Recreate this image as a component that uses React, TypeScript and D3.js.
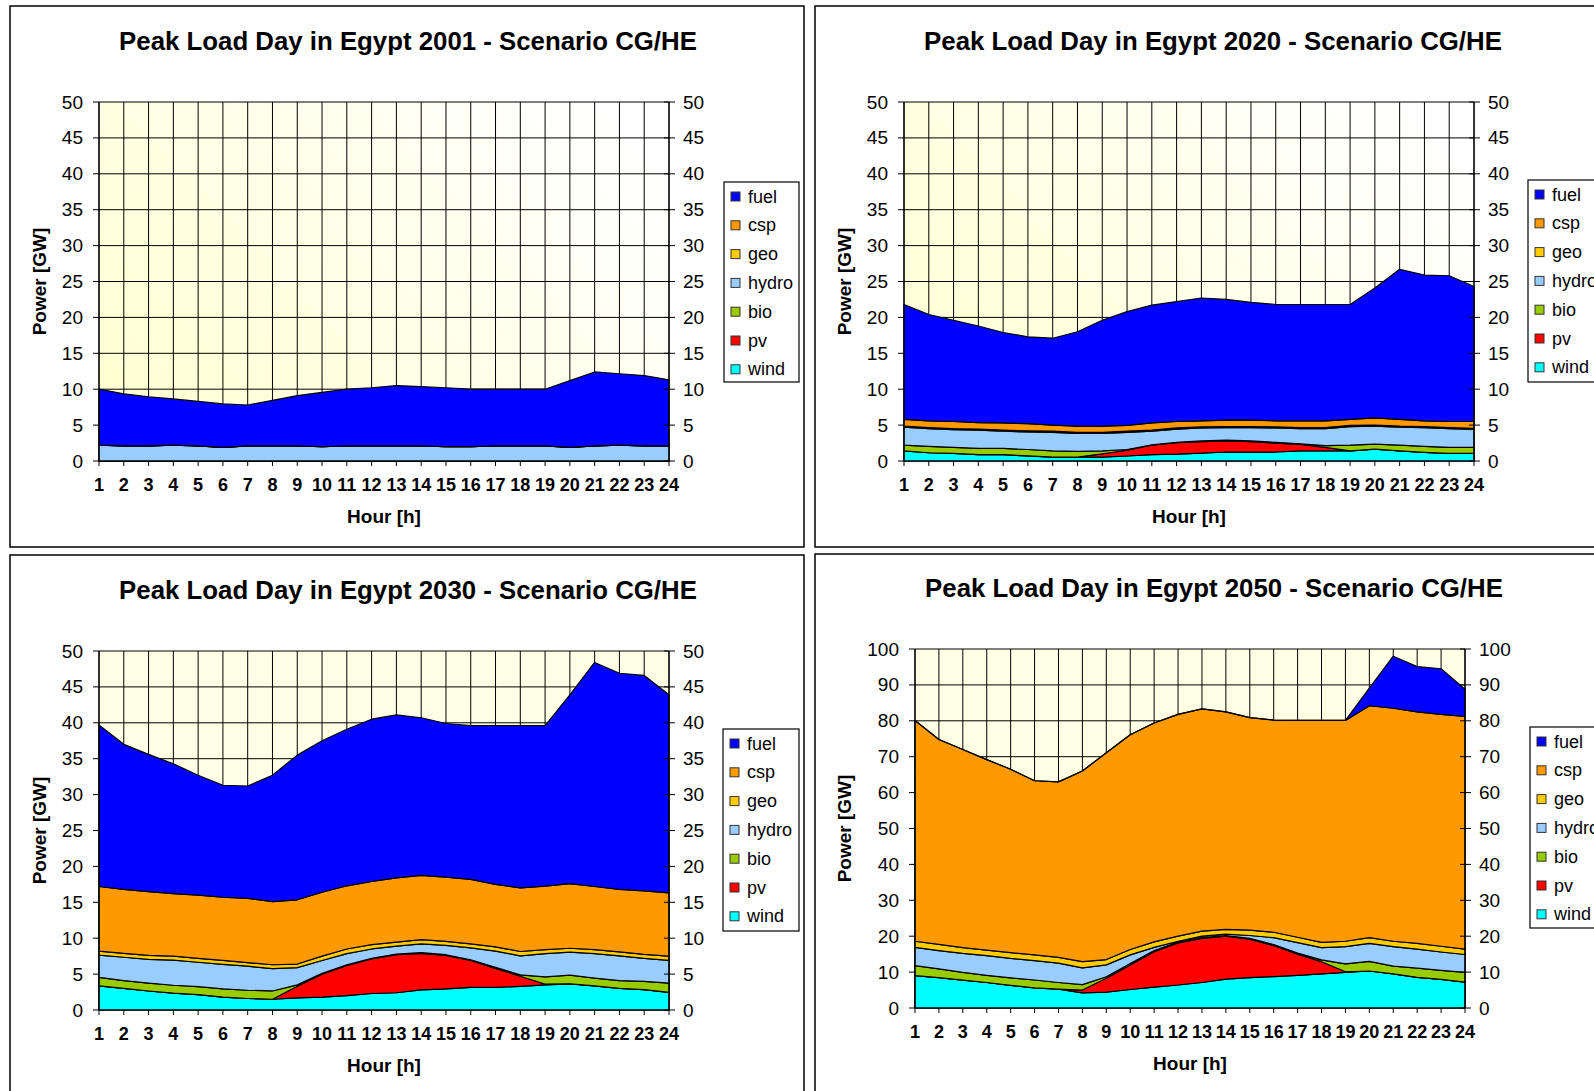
import React from "react";
import * as d3 from "d3";

// ---------- data ----------
const HOURS = [1, 2, 3, 4, 5, 6, 7, 8, 9, 10, 11, 12, 13, 14, 15, 16, 17, 18, 19, 20, 21, 22, 23, 24];
const STACK_ORDER = ["wind", "pv", "bio", "hydro", "geo", "csp", "fuel"];
const LEGEND_ORDER = ["fuel", "csp", "geo", "hydro", "bio", "pv", "wind"];
const COLORS: Record<string, string> = {
  fuel: "#0000FF",
  csp: "#FF9900",
  geo: "#FFCC00",
  hydro: "#99CCFF",
  bio: "#99CC00",
  pv: "#FF0000",
  wind: "#00FFFF",
};
const YEARS = [2001, 2020, 2030, 2050];
const Y_MAX = [50, 50, 50, 100];

const ZERO = [0, 0, 0, 0, 0, 0, 0, 0, 0, 0, 0, 0, 0, 0, 0, 0, 0, 0, 0, 0, 0, 0, 0, 0];

// 2001
const wind2001 = ZERO;
const pv2001 = ZERO;
const bio2001 = ZERO;
const hydro2001 = [2.2, 2.1, 2.1, 2.2, 2.1, 1.9, 2.1, 2.1, 2.1, 2.0, 2.1, 2.1, 2.1, 2.1, 2.0, 2.0, 2.1, 2.1, 2.1, 1.9, 2.1, 2.2, 2.1, 2.1];
const geo2001 = ZERO;
const csp2001 = ZERO;
const fuel2001 = [7.8, 7.25, 6.85, 6.45, 6.2, 6.05, 5.7, 6.35, 7.0, 7.55, 7.9, 8.1, 8.4, 8.25, 8.2, 8.0, 7.9, 7.9, 7.9, 9.3, 10.3, 9.95, 9.8, 9.2];

// 2020
const wind2020 = [1.4, 1.15, 1.05, 0.9, 0.9, 0.7, 0.55, 0.55, 0.55, 0.7, 0.9, 0.95, 1.1, 1.25, 1.25, 1.25, 1.4, 1.4, 1.4, 1.65, 1.4, 1.2, 1.05, 1.05];
const pv2020 = [0, 0, 0, 0, 0, 0, 0, 0, 0.45, 0.8, 1.3, 1.6, 1.6, 1.55, 1.45, 1.25, 0.9, 0.5, 0, 0, 0, 0, 0, 0];
const bio2020 = [0.8, 0.9, 0.85, 0.85, 0.85, 0.9, 0.85, 0.8, 0.4, 0.1, 0.05, 0.05, 0.1, 0.1, 0.1, 0.1, 0.1, 0.25, 0.8, 0.7, 0.8, 0.85, 0.85, 0.85];
const hydro2020 = [2.5, 2.45, 2.45, 2.55, 2.4, 2.45, 2.6, 2.5, 2.45, 2.4, 1.9, 1.85, 1.8, 1.75, 1.85, 2.0, 2.1, 2.35, 2.6, 2.5, 2.5, 2.6, 2.6, 2.5];
const geo2020 = [0.15, 0.15, 0.15, 0.15, 0.15, 0.15, 0.15, 0.15, 0.15, 0.15, 0.15, 0.15, 0.15, 0.15, 0.15, 0.15, 0.15, 0.15, 0.15, 0.15, 0.15, 0.15, 0.15, 0.15];
const csp2020 = [0.95, 0.95, 1.0, 0.9, 1.0, 1.0, 0.85, 0.85, 0.85, 0.8, 1.0, 0.9, 0.85, 0.9, 0.9, 0.85, 0.95, 0.95, 0.85, 1.0, 0.95, 0.8, 0.85, 0.95];
const fuel2020 = [16.0, 14.8, 14.1, 13.45, 12.6, 12.1, 12.1, 13.15, 14.75, 15.85, 16.4, 16.7, 17.1, 16.8, 16.4, 16.2, 16.2, 16.2, 16.0, 18.1, 20.9, 20.3, 20.3, 18.8];

// 2030
const wind2030 = [3.35, 3.0, 2.65, 2.35, 2.15, 1.8, 1.6, 1.5, 1.7, 1.8, 2.0, 2.3, 2.4, 2.8, 2.95, 3.15, 3.15, 3.3, 3.5, 3.65, 3.35, 3.0, 2.85, 2.45];
const pv2030 = [0, 0, 0, 0, 0, 0, 0, 0, 1.6, 3.2, 4.2, 4.8, 5.3, 5.1, 4.65, 3.75, 2.65, 1.4, 0.1, 0, 0, 0, 0, 0];
const bio2030 = [1.2, 1.1, 1.1, 1.1, 1.1, 1.15, 1.15, 1.15, 0.2, 0.1, 0.1, 0.1, 0.1, 0.1, 0.1, 0.1, 0.15, 0.2, 1.0, 1.2, 1.1, 1.1, 1.15, 1.3];
const hydro2030 = [3.1, 3.25, 3.3, 3.5, 3.4, 3.4, 3.35, 3.1, 2.4, 1.8, 1.55, 1.3, 1.1, 1.2, 1.3, 1.65, 2.25, 2.65, 3.25, 3.2, 3.4, 3.45, 3.2, 3.15];
const geo2030 = [0.55, 0.55, 0.55, 0.55, 0.55, 0.55, 0.5, 0.55, 0.5, 0.6, 0.65, 0.6, 0.55, 0.6, 0.55, 0.55, 0.6, 0.6, 0.55, 0.55, 0.55, 0.55, 0.55, 0.6];
const csp2030 = [9.0, 8.9, 8.9, 8.7, 8.8, 8.8, 8.95, 8.8, 8.95, 8.9, 8.8, 8.8, 8.95, 8.95, 8.95, 9.0, 8.7, 8.85, 8.85, 9.0, 8.8, 8.7, 8.85, 8.8];
const fuel2030 = [22.5, 20.2, 19.1, 18.1, 16.7, 15.6, 15.65, 17.6, 20.15, 21.1, 21.8, 22.6, 22.7, 21.95, 21.4, 21.4, 22.1, 22.6, 22.35, 26.3, 31.2, 30.1, 30.0, 27.6];

// 2050
const wind2050 = [9.0, 8.45, 7.75, 7.1, 6.3, 5.6, 5.25, 4.2, 4.4, 5.15, 5.8, 6.4, 7.1, 8.05, 8.45, 8.75, 9.1, 9.5, 9.9, 10.3, 9.5, 8.55, 7.95, 7.2];
const pv2050 = [0, 0, 0, 0, 0, 0, 0, 0.8, 3.9, 6.85, 9.9, 11.7, 12.3, 11.95, 10.75, 8.65, 5.9, 3.4, 0.2, 0, 0, 0, 0, 0];
const bio2050 = [2.8, 2.45, 2.15, 2.0, 2.1, 2.2, 1.85, 1.5, 0.4, 0.4, 0.3, 0.3, 0.2, 0.2, 0.2, 0.3, 0.3, 0.5, 2.2, 2.7, 2.15, 2.55, 2.55, 2.7];
const hydro2050 = [5.1, 5.1, 5.3, 5.5, 5.4, 5.4, 5.4, 4.7, 3.3, 2.4, 0.9, 0.2, 0.4, 0.4, 0.8, 1.9, 2.9, 3.4, 4.8, 5.0, 5.45, 5.3, 5.1, 5.0];
const geo2050 = [1.7, 1.7, 1.6, 1.5, 1.6, 1.6, 1.6, 1.7, 1.5, 1.5, 1.5, 1.4, 1.4, 1.3, 1.5, 1.5, 1.5, 1.5, 1.5, 1.6, 1.5, 1.6, 1.6, 1.5];
const csp2050 = [61.5, 57.1, 55.2, 53.1, 51.1, 48.5, 48.9, 53.1, 57.6, 59.8, 61.0, 61.8, 61.9, 60.6, 59.2, 59.1, 60.4, 61.8, 61.5, 64.6, 64.9, 64.5, 64.6, 64.8];
const fuel2050 = [0, 0, 0, 0, 0, 0, 0, 0, 0, 0, 0, 0, 0, 0, 0, 0, 0, 0, 0, 4.9, 14.5, 12.6, 12.7, 7.6];

const DATA: Record<string, number[]>[] = [
  { wind: wind2001, pv: pv2001, bio: bio2001, hydro: hydro2001, geo: geo2001, csp: csp2001, fuel: fuel2001 },
  { wind: wind2020, pv: pv2020, bio: bio2020, hydro: hydro2020, geo: geo2020, csp: csp2020, fuel: fuel2020 },
  { wind: wind2030, pv: pv2030, bio: bio2030, hydro: hydro2030, geo: geo2030, csp: csp2030, fuel: fuel2030 },
  { wind: wind2050, pv: pv2050, bio: bio2050, hydro: hydro2050, geo: geo2050, csp: csp2050, fuel: fuel2050 },
];

// ---------- layout ----------
type Layout = {
  box: { x: number; y: number; w: number; h: number };
  plot: { l: number; r: number; t: number; b: number };
  legend: { x: number; y: number; w: number; h: number };
  titleX: number;
  titleY: number;
  yTitleX: number;
  bg: string;
};

const LAYOUTS: Layout[] = [
  { box: { x: 10, y: 6, w: 794, h: 541 }, plot: { l: 99, r: 669, t: 102, b: 461 }, legend: { x: 724, y: 182, w: 75, h: 200 }, titleX: 408, titleY: 41, yTitleX: 39, bg: "url(#bgGrad)" },
  { box: { x: 815, y: 6, w: 800, h: 541 }, plot: { l: 904, r: 1474, t: 102, b: 461 }, legend: { x: 1528, y: 180, w: 80, h: 202 }, titleX: 1213, titleY: 41, yTitleX: 844, bg: "url(#bgGrad)" },
  { box: { x: 10, y: 555, w: 794, h: 560 }, plot: { l: 99, r: 669, t: 651, b: 1010 }, legend: { x: 723, y: 729, w: 76, h: 202 }, titleX: 408, titleY: 590, yTitleX: 39, bg: "#FFFFE6" },
  { box: { x: 815, y: 554, w: 800, h: 560 }, plot: { l: 915, r: 1465, t: 649, b: 1008 }, legend: { x: 1530, y: 727, w: 80, h: 201 }, titleX: 1214, titleY: 588, yTitleX: 844, bg: "#FFFFE6" },
];

const FONT = "'Liberation Sans', Arial, Helvetica, sans-serif";

function Panel({ layout, year, data, yMax }: { layout: Layout; year: number; data: Record<string, number[]>; yMax: number }) {
  const { box, plot, legend } = layout;
  const x = d3.scaleLinear().domain([1, 24]).range([plot.l, plot.r]);
  const y = d3.scaleLinear().domain([0, yMax]).range([plot.b, plot.t]);
  const rows = HOURS.map((h, i) => {
    const o: any = { hour: h };
    STACK_ORDER.forEach((k) => (o[k] = data[k][i]));
    return o;
  });
  const stacked = d3.stack<any>().keys(STACK_ORDER)(rows);
  const area = d3
    .area<any>()
    .x((d: any) => x(d.data.hour))
    .y0((d: any) => y(d[0]))
    .y1((d: any) => y(d[1]));
  const yTicks = y.ticks(10);

  return (
    <g>
      <rect x={box.x} y={box.y} width={box.w} height={box.h} fill="#fff" stroke="#000" strokeWidth={1.5} />
      <text x={layout.titleX} y={layout.titleY} textAnchor="middle" dominantBaseline="central" fontSize={25.8} fontWeight="bold" fontFamily={FONT}>
        {`Peak Load Day in Egypt ${year} - Scenario CG/HE`}
      </text>
      <rect x={plot.l} y={plot.t} width={plot.r - plot.l} height={plot.b - plot.t} fill={layout.bg} />
      {/* grid */}
      {yTicks.map((t) => (
        <line key={"gy" + t} x1={plot.l} x2={plot.r} y1={y(t)} y2={y(t)} stroke="#000" strokeWidth={1} />
      ))}
      {HOURS.map((h) => (
        <line key={"gx" + h} x1={x(h)} x2={x(h)} y1={plot.t} y2={plot.b} stroke="#000" strokeWidth={1} />
      ))}
      {/* areas */}
      {stacked.map((s: any) => (
        <path key={s.key} d={area(s) || ""} fill={COLORS[s.key]} stroke="#000" strokeWidth={1.2} strokeLinejoin="round" />
      ))}
      {/* axes */}
      <line x1={plot.l} x2={plot.l} y1={plot.t} y2={plot.b} stroke="#000" strokeWidth={1.2} />
      <line x1={plot.r} x2={plot.r} y1={plot.t} y2={plot.b} stroke="#000" strokeWidth={1.2} />
      <line x1={plot.l} x2={plot.r} y1={plot.b} y2={plot.b} stroke="#000" strokeWidth={1.2} />
      {yTicks.map((t) => (
        <g key={"ty" + t}>
          <line x1={plot.l - 6} x2={plot.l} y1={y(t)} y2={y(t)} stroke="#000" strokeWidth={1} />
          <line x1={plot.r - 5} x2={plot.r + 6} y1={y(t)} y2={y(t)} stroke="#000" strokeWidth={1} />
          <text x={plot.l - 16} y={y(t)} textAnchor="end" dominantBaseline="central" fontSize={19} fontFamily={FONT}>
            {t}
          </text>
          <text x={plot.r + 14} y={y(t)} textAnchor="start" dominantBaseline="central" fontSize={19} fontFamily={FONT}>
            {t}
          </text>
        </g>
      ))}
      {HOURS.map((h) => (
        <g key={"tx" + h}>
          <line x1={x(h)} x2={x(h)} y1={plot.b} y2={plot.b + 5} stroke="#000" strokeWidth={1} />
          <text x={x(h)} y={plot.b + 24} textAnchor="middle" dominantBaseline="central" fontSize={18} fontWeight="bold" fontFamily={FONT}>
            {h}
          </text>
        </g>
      ))}
      <text x={(plot.l + plot.r) / 2} y={plot.b + 55} textAnchor="middle" dominantBaseline="central" fontSize={19} fontWeight="bold" fontFamily={FONT}>
        Hour [h]
      </text>
      <text
        transform={`translate(${layout.yTitleX},${(plot.t + plot.b) / 2}) rotate(-90)`}
        textAnchor="middle"
        dominantBaseline="central"
        fontSize={19}
        fontWeight="bold"
        fontFamily={FONT}
      >
        Power [GW]
      </text>
      {/* legend */}
      <rect x={legend.x} y={legend.y} width={legend.w} height={legend.h} fill="#fff" stroke="#000" strokeWidth={1.2} />
      {LEGEND_ORDER.map((k, i) => {
        const cy = legend.y + 14.5 + i * 28.8;
        return (
          <g key={"lg" + k}>
            <rect x={legend.x + 7} y={cy - 4.5} width={9} height={9} fill={COLORS[k]} stroke="#333" strokeWidth={1} />
            <text x={legend.x + 24} y={cy} dominantBaseline="central" fontSize={18} fontFamily={FONT}>
              {k}
            </text>
          </g>
        );
      })}
    </g>
  );
}

export default function App() {
  return (
    <svg
      width={1594}
      height={1091}
      viewBox="0 0 1594 1091"
      style={{ position: "absolute", left: 0, top: 0, background: "#fff", display: "block" }}
    >
      <defs>
        <linearGradient id="bgGrad" x1="0" y1="0.8" x2="1" y2="0.2">
          <stop offset="0" stopColor="#FFFFD2" />
          <stop offset="1" stopColor="#FFFFFF" />
        </linearGradient>
      </defs>
      <rect x={0} y={0} width={1594} height={1091} fill="#fff" />
      {LAYOUTS.map((l, i) => (
        <Panel key={i} layout={l} year={YEARS[i]} data={DATA[i]} yMax={Y_MAX[i]} />
      ))}
    </svg>
  );
}
